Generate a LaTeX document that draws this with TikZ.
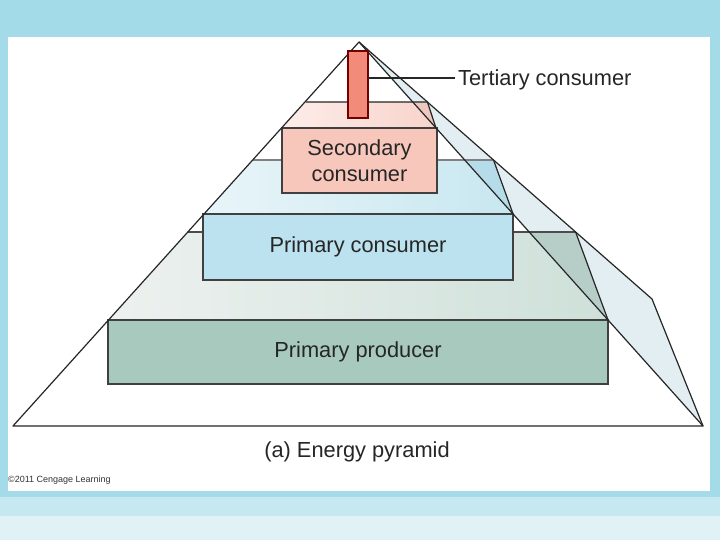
\documentclass[tikz,border=0pt]{standalone}
\usepackage{fontspec}
\setmainfont{Liberation Sans}
\begin{document}
\begin{tikzpicture}[x=1pt,y=-1pt,
  edge/.style={draw=black!85,line width=1.2pt,line join=round},
  boxst/.style={draw=black!75,line width=1.2pt,inner sep=0pt,font=\fontsize{21.8}{26}\selectfont,text=black!85,align=center},
  lbl/.style={inner sep=0pt,font=\fontsize{21.8}{26}\selectfont,text=black!85}]
\definecolor{bandA}{HTML}{A3DBE8}
\definecolor{bandB}{HTML}{C6E8F0}
\definecolor{bandC}{HTML}{E1F2F7}
\definecolor{prodC}{HTML}{A7C9BE}
\definecolor{consC}{HTML}{BCE2EF}
\definecolor{secC}{HTML}{F8C7BC}
\definecolor{terC}{HTML}{F28B79}
\definecolor{sideC}{HTML}{E3EEF2}
\definecolor{prodTL}{HTML}{EDF1EF}
\definecolor{prodTR}{HTML}{CEE0D9}
\definecolor{prodS}{HTML}{B6CEC7}
\definecolor{consTL}{HTML}{E8F5F9}
\definecolor{consTR}{HTML}{C8E7F0}
\definecolor{consS}{HTML}{B5DCE8}
\definecolor{secTL}{HTML}{FDEDEA}
\definecolor{secTR}{HTML}{F8D3CB}
\definecolor{secS}{HTML}{EDC8C0}
\useasboundingbox (0,0) rectangle (720,540);
% background
\fill[bandA] (0,0) rectangle (720,497);
\fill[bandB] (0,497) rectangle (720,516);
\fill[bandC] (0,516) rectangle (720,540);
\fill[white] (8,37) rectangle (710,491);
% pyramid key points
\coordinate (apex) at (359,42);
\coordinate (bl) at (13,426);
\coordinate (br) at (703,426);
\coordinate (bk) at (652,299);
% big side face
\fill[sideC] (apex) -- (bk) -- (br) -- cycle;
% top faces (gradients)
\shade[left color=prodTL,right color=prodTR] (187.8,232) -- (529.2,232) -- (608,320) -- (108.5,320) -- cycle;
\shade[left color=consTL,right color=consTR] (252.7,160) -- (464.7,160) -- (513.1,214) -- (204,214) -- cycle;
\shade[left color=secTL,right color=secTR] (305.9,102) -- (412.8,102) -- (436,128) -- (281.5,128) -- cycle;
% side triangles
\fill[prodS] (529.2,232) -- (575.6,232) -- (608,320) -- cycle;
\fill[consS] (464.7,160) -- (493.5,160) -- (513.1,214) -- cycle;
\fill[secS] (412.8,102) -- (427.4,102) -- (436,128) -- cycle;
% tier top lines and side lines
\draw[edge,draw=black!70] (187.8,232) -- (575.6,232);
\draw[edge] (575.6,232) -- (608,320);
\draw[edge,draw=black!50] (252.7,160) -- (493.5,160);
\draw[edge] (493.5,160) -- (513.1,214);
\draw[edge] (305.9,102) -- (427.4,102) -- (436,128);
% boxes
\node[boxst,fill=prodC,minimum width=500pt,minimum height=64pt] (prod) at (358,352) {Primary producer};
\node[boxst,fill=consC,minimum width=310pt,minimum height=66pt] (cons) at (358,247) {Primary consumer};
\node[boxst,fill=secC,minimum width=155pt,minimum height=65pt] (sec) at (359.5,160.5) {Secondary\\consumer};
% pyramid outline
\draw[edge] (bl) -- (apex) -- (br) -- cycle;
\draw[edge] (apex) -- (bk) -- (br);
% tertiary consumer
\node[draw=red!45!black,fill=terC,line width=1.2pt,inner sep=0pt,minimum width=20pt,minimum height=67pt] (ter) at (358,84.5) {};
\node[lbl,anchor=base west] (terlbl) at (458,86) {Tertiary consumer};
\coordinate (tstart) at (368,78);
\draw[black!85,line width=1.2pt] (tstart) -- (455,78) coordinate (tend);
% caption
\node[lbl] (cap) at (357,452) {(a) Energy pyramid};
\node[inner sep=0pt,anchor=west,font=\fontsize{9}{10}\selectfont,text=black!80] (copy) at (8,480) {\textcopyright 2011 Cengage Learning};
\end{tikzpicture}
\end{document}
